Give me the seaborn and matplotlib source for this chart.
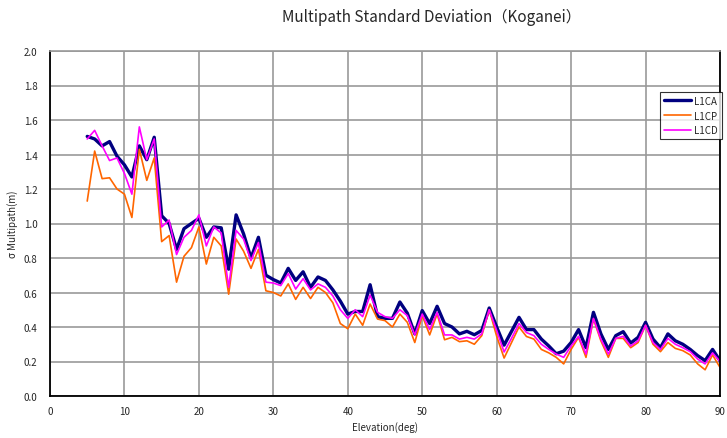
import numpy as np
import pandas as pd
import matplotlib
matplotlib.use("Agg")
import matplotlib.pyplot as plt
import seaborn as sns
from matplotlib.lines import Line2D

elevation = list(range(5, 91))

l1ca = [1.505, 1.49, 1.45, 1.475, 1.39, 1.34, 1.27, 1.45, 1.37, 1.50,
        1.045, 1.00, 0.85, 0.97, 1.00, 1.03, 0.92, 0.98, 0.975, 0.735,
        1.05, 0.94, 0.80, 0.92, 0.70, 0.675, 0.655, 0.74, 0.67, 0.72,
        0.63, 0.69, 0.67, 0.615, 0.55, 0.475, 0.49, 0.49, 0.645, 0.46,
        0.45, 0.45, 0.545, 0.48, 0.36, 0.495, 0.42, 0.52, 0.42, 0.40,
        0.36, 0.375, 0.355, 0.38, 0.51, 0.40, 0.295, 0.375, 0.456, 0.385,
        0.385, 0.33, 0.29, 0.245, 0.26, 0.31, 0.385, 0.28, 0.485, 0.36,
        0.27, 0.35, 0.373, 0.307, 0.34, 0.427, 0.33, 0.28, 0.36, 0.32,
        0.30, 0.27, 0.234, 0.205, 0.27, 0.205]

l1cp = [1.13, 1.42, 1.26, 1.265, 1.20, 1.17, 1.035, 1.43, 1.25, 1.38,
        0.895, 0.93, 0.66, 0.81, 0.86, 0.98, 0.765, 0.92, 0.87, 0.59,
        0.91, 0.84, 0.74, 0.85, 0.61, 0.60, 0.58, 0.65, 0.56, 0.63,
        0.565, 0.63, 0.60, 0.54, 0.42, 0.39, 0.475, 0.41, 0.533, 0.446,
        0.437, 0.40, 0.475, 0.427, 0.31, 0.466, 0.354, 0.475, 0.326, 0.34,
        0.315, 0.32, 0.30, 0.35, 0.50, 0.346, 0.22, 0.31, 0.40, 0.345,
        0.33, 0.27, 0.25, 0.224, 0.186, 0.27, 0.34, 0.224, 0.446, 0.32,
        0.224, 0.334, 0.334, 0.28, 0.31, 0.41, 0.30, 0.257, 0.31, 0.276,
        0.263, 0.238, 0.186, 0.152, 0.238, 0.166]

l1cd = [1.49, 1.54, 1.45, 1.365, 1.38, 1.29, 1.17, 1.56, 1.37, 1.49,
        0.98, 1.02, 0.82, 0.92, 0.96, 1.05, 0.87, 0.98, 0.945, 0.63,
        0.96, 0.91, 0.785, 0.89, 0.66, 0.655, 0.64, 0.71, 0.62, 0.68,
        0.615, 0.65, 0.63, 0.58, 0.50, 0.45, 0.50, 0.46, 0.585, 0.485,
        0.46, 0.45, 0.50, 0.466, 0.354, 0.475, 0.385, 0.485, 0.354, 0.354,
        0.33, 0.34, 0.33, 0.36, 0.50, 0.38, 0.255, 0.335, 0.42, 0.368,
        0.35, 0.30, 0.27, 0.243, 0.224, 0.29, 0.346, 0.243, 0.45, 0.33,
        0.243, 0.334, 0.346, 0.29, 0.32, 0.41, 0.31, 0.27, 0.334, 0.30,
        0.28, 0.257, 0.214, 0.186, 0.25, 0.20]

series_names = ["L1CA", "L1CP", "L1CD"]
x_ticks = list(range(0, 91, 10))
y_ticks = [0.0, 0.2, 0.4, 0.6, 0.8, 1.0, 1.2, 1.4, 1.6, 1.8, 2.0]

df = pd.DataFrame({
    "Elevation": elevation * 3,
    "value": l1ca + l1cp + l1cd,
    "signal": [series_names[0]] * len(elevation) + [series_names[1]] * len(elevation) + [series_names[2]] * len(elevation),
})

sns.set_style("white")
plt.rcParams['font.family'] = ['Noto Sans CJK JP', 'DejaVu Sans']

fig = plt.figure(figsize=(7.27, 4.39), dpi=100)
ax = fig.add_axes([50/727, 42/439, 670/727, 345/439])

palette = {"L1CA": "#000080", "L1CP": "#FF6600", "L1CD": "#FF00FF"}
widths = {"L1CA": 2.4, "L1CP": 1.2, "L1CD": 1.2}
sns.lineplot(data=df, x="Elevation", y="value", hue="signal", size="signal",
             sizes=widths, palette=palette, hue_order=series_names,
             size_order=series_names, ax=ax, legend=False)

ax.set_xlim(0, 90)
ax.set_ylim(0, 2.0)
ax.set_xticks(x_ticks)
ax.set_yticks(y_ticks)
ax.set_xticklabels([str(t) for t in x_ticks], fontsize=7)
ax.set_yticklabels([f"{t:.1f}" for t in y_ticks], fontsize=7)
ax.grid(True, color="#999999", linewidth=1.2)
ax.set_axisbelow(True)
for s in ["left", "bottom", "right"]:
    ax.spines[s].set_color("black")
    ax.spines[s].set_linewidth(1.3)
ax.spines["top"].set_color("#999999")
ax.spines["top"].set_linewidth(1.2)
ax.tick_params(axis="x", length=3, width=0.8, color="black", pad=4)
ax.tick_params(axis="y", length=3, width=0.8, color="black", pad=6)

ax.set_xlabel("Elevation(deg)", fontsize=7, labelpad=4)
ax.set_ylabel("σ Multipath(m)", fontsize=7, labelpad=4)

fig.text(432/727, 1 - 17/439, "Multipath Standard Deviation（Koganei）",
         ha="center", va="center", fontsize=11)

handles = [Line2D([], [], color=palette[n], lw=widths[n]) for n in series_names]
leg = fig.legend(handles, series_names, loc="upper left",
                 bbox_to_anchor=(655/727, 1 - 88/439), fontsize=7,
                 frameon=True, fancybox=False, edgecolor="black",
                 handlelength=2.8, handletextpad=0.3, borderpad=0.4,
                 labelspacing=0.5)
leg.get_frame().set_linewidth(0.8)

fig.savefig("out.png", dpi=100, facecolor="white")
